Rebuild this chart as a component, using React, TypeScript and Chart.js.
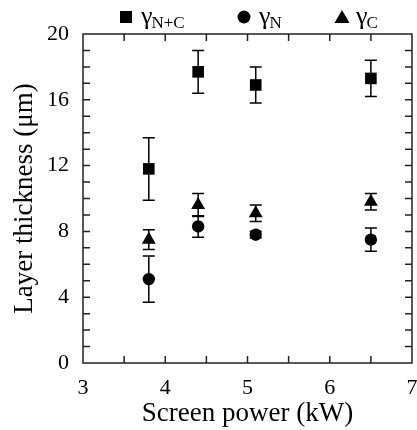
import React, { useEffect, useRef } from "react";
import { Chart, registerables } from "chart.js";

Chart.register(...registerables);

const powers = [3.8, 4.4, 5.1, 6.5];
const gammaNC = [11.8, 17.7, 16.9, 17.3];
const gammaNCErr = [1.9, 1.3, 1.1, 1.1];
const gammaN = [5.1, 8.3, 7.8, 7.5];
const gammaNErr = [1.4, 0.65, 0.2, 0.7];
const gammaC = [7.5, 9.6, 9.1, 9.8];
const gammaCErr = [0.6, 0.7, 0.5, 0.5];
const xTickLabels = ["3", "4", "5", "6", "7"];
const yTickLabels = ["0", "4", "8", "12", "16", "20"];

const FONT = "'Liberation Serif', serif";

const errorBarPlugin = {
  id: "errorBars",
  afterDatasetsDraw(chart: any) {
    const ctx = chart.ctx;
    const xs = chart.scales.x;
    const ys = chart.scales.y;
    ctx.save();
    ctx.strokeStyle = "#000";
    ctx.lineWidth = 1.5;
    chart.data.datasets.forEach((ds: any) => {
      const errs: number[] = ds.errors || [];
      ds.data.forEach((p: any, i: number) => {
        const e = errs[i];
        if (!e) return;
        const px = xs.getPixelForValue(p.x);
        const top = ys.getPixelForValue(p.y + e);
        const bot = ys.getPixelForValue(p.y - e);
        const cap = 6;
        ctx.beginPath();
        ctx.moveTo(px, top);
        ctx.lineTo(px, bot);
        ctx.moveTo(px - cap, top);
        ctx.lineTo(px + cap, top);
        ctx.moveTo(px - cap, bot);
        ctx.lineTo(px + cap, bot);
        ctx.stroke();
      });
    });
    ctx.restore();
  },
};

const frameTicksPlugin = {
  id: "frameTicks",
  afterDraw(chart: any) {
    const ctx = chart.ctx;
    const { left, right, top, bottom } = chart.chartArea;
    const xs = chart.scales.x;
    const ys = chart.scales.y;
    ctx.save();
    ctx.strokeStyle = "#222";
    ctx.lineWidth = 1.5;
    ctx.strokeRect(left, top, right - left, bottom - top);
    const len = 7;
    ctx.beginPath();
    for (let v = 3.5; v < 7; v += 0.5) {
      const px = xs.getPixelForValue(v);
      ctx.moveTo(px, bottom);
      ctx.lineTo(px, bottom - len);
      ctx.moveTo(px, top);
      ctx.lineTo(px, top + len);
    }
    for (let v = 1; v < 20; v += 1) {
      const py = ys.getPixelForValue(v);
      ctx.moveTo(left, py);
      ctx.lineTo(left + len, py);
      ctx.moveTo(right, py);
      ctx.lineTo(right - len, py);
    }
    ctx.stroke();

    // legend
    ctx.fillStyle = "#000";
    const ly = 17;
    const items = [
      { style: "rect", mx: 126, tx: 141, sub: "N+C" },
      { style: "circle", mx: 244, tx: 259, sub: "N" },
      { style: "triangle", mx: 342, tx: 356, sub: "C" },
    ];
    items.forEach((it) => {
      ctx.beginPath();
      if (it.style === "rect") {
        ctx.fillRect(it.mx - 6, ly - 6, 12, 12);
      } else if (it.style === "circle") {
        ctx.arc(it.mx, ly, 6.5, 0, Math.PI * 2);
        ctx.fill();
      } else {
        ctx.moveTo(it.mx, ly - 7);
        ctx.lineTo(it.mx + 7.5, ly + 6);
        ctx.lineTo(it.mx - 7.5, ly + 6);
        ctx.closePath();
        ctx.fill();
      }
      ctx.textBaseline = "alphabetic";
      ctx.textAlign = "left";
      ctx.font = `26px ${FONT}`;
      ctx.fillText("γ", it.tx, ly + 7);
      const gw = ctx.measureText("γ").width;
      ctx.font = `17px ${FONT}`;
      ctx.fillText(it.sub, it.tx + gw - 1, ly + 11);
    });
    ctx.restore();
  },
};

export default function App() {
  const ref = useRef<HTMLCanvasElement>(null);
  useEffect(() => {
    document.body.style.margin = "0";
    const mk = (vals: number[], errs: number[], label: string, style: string, r: number) => ({
      label,
      data: powers.map((x, i) => ({ x, y: vals[i] })),
      errors: errs,
      pointStyle: style,
      pointRadius: r,
      pointHoverRadius: r,
      backgroundColor: "#000",
      borderColor: "#000",
      borderWidth: 0,
      showLine: false,
    });
    const chart = new Chart(ref.current!, {
      type: "scatter",
      data: {
        datasets: [
          mk(gammaNC, gammaNCErr, "γN+C", "rect", 8.2),
          mk(gammaN, gammaNErr, "γN", "circle", 6.2),
          mk(gammaC, gammaCErr, "γC", "triangle", 8),
        ] as any,
      },
      options: {
        responsive: false,
        animation: false,
        layout: { autoPadding: false, padding: { top: 34, right: 5, left: 0, bottom: 0 } },
        plugins: { legend: { display: false }, tooltip: { enabled: false } },
        scales: {
          x: {
            type: "linear",
            min: 3,
            max: 7,
            grid: { display: false, drawTicks: false },
            border: { display: false },
            afterFit: (s: any) => {
              s.height = 67;
              s.paddingLeft = 0;
              s.paddingRight = 0;
            },
            afterBuildTicks: (s: any) => {
              s.ticks = xTickLabels.map((t) => ({ value: Number(t) }));
            },
            ticks: {
              color: "#000",
              padding: 12,
              font: { family: FONT, size: 22 },
              callback: (v: any) => String(v),
            },
            title: {
              display: true,
              text: "Screen power (kW)",
              color: "#000",
              padding: { top: 0, bottom: 0 },
              font: { family: FONT, size: 27 },
            },
          },
          y: {
            type: "linear",
            min: 0,
            max: 20,
            grid: { display: false, drawTicks: false },
            border: { display: false },
            afterFit: (s: any) => {
              s.width = 83;
              s.paddingTop = 0;
              s.paddingBottom = 0;
            },
            afterBuildTicks: (s: any) => {
              s.ticks = yTickLabels.map((t) => ({ value: Number(t) }));
            },
            ticks: {
              color: "#000",
              padding: 14,
              font: { family: FONT, size: 22 },
              callback: (v: any) => String(v),
            },
            title: {
              display: true,
              text: "Layer thickness (μm)",
              color: "#000",
              padding: { top: 9, bottom: 0 },
              font: { family: FONT, size: 27 },
            },
          },
        },
      },
      plugins: [errorBarPlugin, frameTicksPlugin],
    });
    return () => chart.destroy();
  }, []);
  return (
    <div style={{ position: "absolute", left: 0, top: 0, width: 417, height: 430 }}>
      <canvas ref={ref} width={417} height={430} style={{ width: 417, height: 430 }} />
    </div>
  );
}
